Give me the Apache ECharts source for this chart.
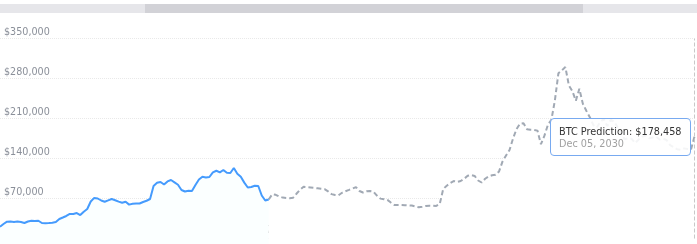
<!DOCTYPE html>
<html>
<head>
<meta charset="utf-8">
<script src="https://cdn.jsdelivr.net/npm/echarts@6/dist/echarts.min.js"></script>
<style>
html,body{margin:0;padding:0;background:#fff;}
#c{width:697px;height:244px;}
</style>
</head>
<body>
<div id="c"></div>
<script>
// Historical BTC price (blue), one value per category step
const history = [20600,25400,29400,29800,29000,29800,28900,27100,29700,31100,
30500,31100,27100,26800,27100,27600,28900,34100,36700,39400,
42900,42900,44600,41100,46900,51600,64700,71000,70000,66500,
64400,66800,69100,67000,64600,62500,64400,59300,60700,61400,
61200,63900,66100,69100,91900,97500,98900,94500,99900,102400,
98300,94100,84900,82200,83600,83100,93600,103200,108000,106600,
107600,115800,118600,115800,119900,115000,114600,123400,113400,108000,
97800,89200,90100,92400,91900,75200,66500,68200];

// Predicted BTC price (grey dashed), starts where history ends
const prediction = [68200,77500,76500,73500,71600,70700,70500,71400,78700,85400,
90600,89900,89200,88500,87800,87100,86400,82600,77700,76100,
75600,80000,82800,85000,87300,89900,83100,80500,82600,83100,
82100,75100,69800,68700,67500,63000,58600,58600,58600,58400,
58100,57600,56000,54600,55600,56900,57400,57200,57000,60400,
86600,92400,97100,100600,98900,100600,104500,109700,111100,109400,
101500,98000,104500,108500,110600,111500,117400,134900,145100,154900,
174800,191400,201000,201600,191300,190200,190000,188800,165000,180000,
199100,207900,241800,289100,294200,300000,268000,258000,241000,262000,
236000,223500,212300,198600,194100,203900,209100,196900,207400,204700,
194100,183600,173800,175500,174500,167100,173200,178000,180400,175500,
176700,178000,173100,174500,172400,163600,160100,156300,155200,157700,
156600,155900,178458];

const tickLabels = ['2023','2024','2025','2026','2027','2027','2028','2029','2030'];
const tickIndex = [20,40,60,80,100,120,140,160,180];
const tipDate = 'Dec 05, 2030';

const total = history.length - 1 + prediction.length;
const categories = [];
for (let i = 0; i < total; i++) categories.push(String(i));
const histData = categories.map((c, i) => i < history.length ? history[i] : null);
const predStart = history.length - 1;
const predData = categories.map((c, i) => i >= predStart ? prediction[i - predStart] : null);

const font = 'DejaVu Sans';
const chart = echarts.init(document.getElementById('c'));
chart.setOption({
  animation: false,
  textStyle: {fontFamily: font},
  graphic: [
    {type: 'rect', shape: {x: 0, y: 4, width: 697, height: 9}, style: {fill: '#e6e6ea'}, silent: true},
    {type: 'rect', shape: {x: 145, y: 4, width: 438, height: 9}, style: {fill: '#d2d2d7'}, silent: true}
  ],
  grid: {left: -2, right: 2.5, top: 38.5, bottom: 5.5, containLabel: false},
  tooltip: {
    trigger: 'axis',
    triggerOn: 'none',
    alwaysShowContent: true,
    backgroundColor: 'rgba(255,255,255,0.88)',
    borderColor: '#78aaf0',
    borderWidth: 1,
    borderRadius: 4,
    padding: [7, 8, 5, 8],
    extraCssText: 'box-shadow:none;',
    axisPointer: {type: 'line', lineStyle: {color: '#c8c8c8', type: 'dashed', width: 1}},
    position: function (point, params, dom, rect, size) {
      return [point[0] - size.contentSize[0] - 3.5, point[1] - size.contentSize[1] / 2];
    },
    formatter: function (params) {
      const p = params.find(q => q.seriesName === 'BTC Prediction') || params[0];
      return '<div style="font-family:DejaVu Sans;font-size:9.7px;line-height:12px;color:#333">' +
        p.seriesName + ': $' + Number(p.value).toLocaleString('en-US') + '</div>' +
        '<div style="font-family:DejaVu Sans;font-size:9.7px;line-height:12px;color:#a0a0a0">' + tipDate + '</div>';
    }
  },
  xAxis: {
    type: 'category',
    data: categories,
    boundaryGap: false,
    axisLine: {show: false},
    axisTick: {show: false},
    splitLine: {show: false},
    axisLabel: {
      inside: true,
      margin: 3,
      color: '#8c8c8c',
      fontSize: 10,
      fontFamily: font,
      interval: function (idx) { return tickIndex.indexOf(idx) >= 0; },
      formatter: function (v, idx) { const k = tickIndex.indexOf(idx); return k >= 0 ? tickLabels[k] : ''; }
    }
  },
  yAxis: {
    type: 'value',
    min: 0,
    max: 350000,
    interval: 70000,
    axisLine: {show: false},
    axisTick: {show: false},
    splitLine: {lineStyle: {color: '#e9e9e9', type: 'dotted'}},
    axisLabel: {
      inside: true,
      margin: 4,
      color: '#8a8f99',
      fontSize: 9.6,
      fontFamily: font,
      verticalAlign: 'bottom',
      padding: [0, 0, 1, 0],
      showMinLabel: false,
      formatter: function (v) { return v === 0 ? '' : '$' + v.toLocaleString('en-US'); }
    }
  },
  series: [
    {
      name: 'BTC Price',
      type: 'line',
      data: histData,
      showSymbol: false,
      symbol: 'none',
      clip: false,
      lineStyle: {color: '#3f8de6', width: 2},
      areaStyle: {color: 'rgb(229,238,252)', opacity: 1, origin: -10000},
      z: 3
    },
    {
      name: 'BTC Prediction',
      type: 'line',
      data: predData,
      showSymbol: false,
      symbol: 'none',
      clip: false,
      lineStyle: {color: '#939aa4', width: 2, type: [5, 3]},
      areaStyle: {color: 'rgb(240,240,240)', opacity: 1, origin: -10000},
      z: 2
    }
  ]
});
chart.dispatchAction({type: 'showTip', seriesIndex: 1, dataIndex: total - 1});
</script>
</body>
</html>
